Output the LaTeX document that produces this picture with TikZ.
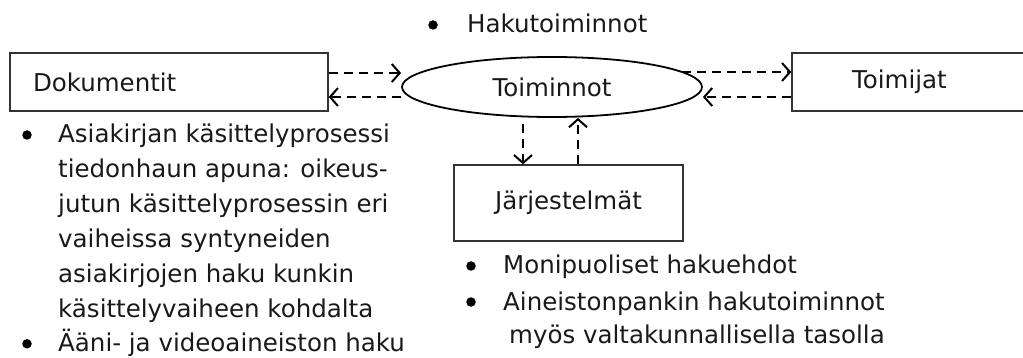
\documentclass[tikz,border=0pt]{standalone}
\usepackage{fontspec}
\setmainfont{DejaVu Sans}
\usetikzlibrary{arrows.meta,shapes.geometric,calc}
\begin{document}
\begin{tikzpicture}[x=1pt,y=-1pt,
  txt/.style={font=\fontsize{24.5}{34.8}\selectfont, inner sep=0pt, anchor=base west, text=black!90},
  bul/.style={circle, fill=black, inner sep=0pt, minimum size=9.5pt},
  box/.style={draw=black!80, line width=1.3pt, rectangle, inner sep=0pt,
    font=\fontsize{24.5}{30}\selectfont, text=black!90},
  flow/.style={line width=2pt, dash pattern=on 9pt off 6pt,
    -{Straight Barb[length=8pt,width=18pt,line width=2pt]}}
]
\useasboundingbox (0,0) rectangle (1023,358);

% main entities
\node[box, minimum width=318pt, minimum height=58pt, text width=272pt, align=left] (doc) at (169,82) {Dokumentit};
\node[draw=black, line width=1.8pt, ellipse, minimum width=300pt, minimum height=60pt, inner sep=0pt,
  font=\fontsize{24.5}{30}\selectfont, text=black!90] (ops) at (552,87) {Toiminnot};
\node[box, minimum width=238pt, minimum height=58pt, text width=118pt, align=left] (tj) at (911,82) {Toimijat};
\node[box, minimum width=229pt, minimum height=76pt] (sys) at (568.5,203) {Järjestelmät};

% connectors
\coordinate (or1) at ($(ops.center)+(130,-15)$);
\draw[flow] ([yshift=9pt]doc.east) -- ([yshift=9pt]doc.east -| ops.west);
\draw[flow] ([yshift=-10pt]ops.west) -- ([yshift=-10pt]ops.west -| doc.east);
\draw[flow] (or1) -- (or1 -| tj.west);
\draw[flow] ([yshift=-15pt]tj.west) -- ([yshift=-15pt]tj.west -| ops.east);
\draw[flow, shorten <=6pt] ([xshift=-45.5pt]sys.north |- ops.south) -- ([xshift=-45.5pt]sys.north);
\draw[flow] ([xshift=9.5pt]sys.north) -- ([xshift=9.5pt]sys.north |- ops.south);

% top bullet
\node[bul] (b0) at (433,25) {};
\node[txt] (t0) at (467,33) {Hakutoiminnot};

% left bullet list
\node[bul] (b1) at (27,135) {};
\node[txt] (l1) at (58,143) {Asiakirjan käsittelyprosessi};
\node[txt] (l2) at (58,177.8) {tiedonhaun apuna: oikeus-};
\node[txt] (l3) at (58,212.6) {jutun käsittelyprosessin eri};
\node[txt] (l4) at (58,247.4) {vaiheissa syntyneiden};
\node[txt] (l5) at (58,282.2) {asiakirjojen haku kunkin};
\node[txt] (l6) at (58,317) {käsittelyvaiheen kohdalta};
\node[bul] (b2) at (27,343.8) {};
\node[txt] (l7) at (58,351.8) {Ääni- ja videoaineiston haku};

% bullet list under the systems box
\node[bul] (b3) at (471,266) {};
\node[txt] (r1) at (503,273) {Monipuoliset hakuehdot};
\node[bul] (b4) at (471,302) {};
\node[txt] (r2) at (503,310) {Aineistonpankin hakutoiminnot};
\node[txt] (r3) at (509,343) {myös valtakunnallisella tasolla};
\end{tikzpicture}
\end{document}
